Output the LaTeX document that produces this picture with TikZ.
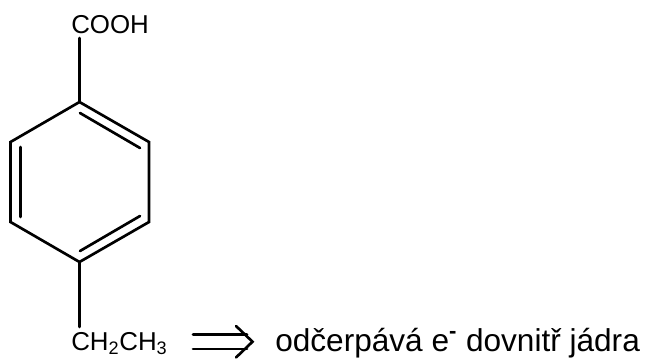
\documentclass[tikz,border=0pt]{standalone}
\usepackage{fontspec}
\setmainfont{Liberation Sans}
\tikzset{
  bond/.style={line width=2pt,line cap=round,line join=miter,black},
  lab/.style={inner sep=0pt,anchor=base west,font=\fontsize{19.4pt}{22pt}\selectfont},
  txt/.style={inner sep=0pt,anchor=base west,font=\fontsize{23.7pt}{28pt}\selectfont}
}
\begin{document}
\begin{tikzpicture}[x=0.75pt,y=-0.75pt]
\useasboundingbox (0,0) rectangle (647,358);
\clip (0,0) rectangle (647,358);
\coordinate (v1) at (79.5,102);
\coordinate (v2) at (149,142);
\coordinate (v3) at (149,222);
\coordinate (v4) at (79.5,262);
\coordinate (v5) at (10.5,222);
\coordinate (v6) at (10.5,142);
\coordinate (i1a) at (80,113);
\coordinate (i1b) at (140,148);
\coordinate (i2a) at (140,216);
\coordinate (i2b) at (80,251);
\coordinate (i3a) at (20.5,217);
\coordinate (i3b) at (20.5,147);
\coordinate (b1) at (79.5,38);
\coordinate (b2) at (79.5,327);
\node[lab] (cooh) at (71,33) {COOH};
\node[lab] (ethyl) at (71,350) {CH\textsubscript{2}CH\textsubscript{3}};
\node[txt] (note) at (275,351) {odčerpává e\textsuperscript{\textbf{-}} dovnitř jádra};
\draw[bond] (v1) -- (v2) -- (v3) -- (v4) -- (v5) -- (v6) -- cycle;
\draw[bond] (i1a) -- (i1b);
\draw[bond] (i2a) -- (i2b);
\draw[bond] (i3a) -- (i3b);
\draw[bond] (v1) -- (b1);
\draw[bond] (v4) -- (b2);
\coordinate (a1) at (193,334.5);
\coordinate (a1e) at (247,334.5);
\coordinate (a2) at (193,349);
\coordinate (a2e) at (247,349);
\coordinate (t1) at (236,326);
\coordinate (t2) at (252.5,341.7);
\coordinate (t3) at (236,357.5);
\draw[bond] (a1) -- (a1e);
\draw[bond] (a2) -- (a2e);
\draw[bond] (t1) -- (t2) -- (t3);
\end{tikzpicture}
\end{document}
